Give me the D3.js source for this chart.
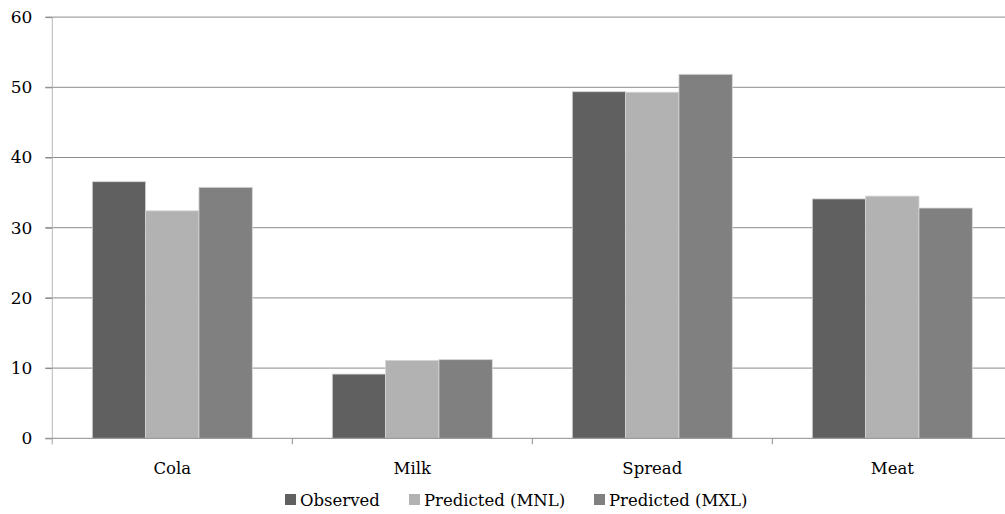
<!DOCTYPE html>
<html>
<head>
<meta charset="utf-8">
<script src="https://cdn.jsdelivr.net/npm/d3@7"></script>
<style>
  html, body { margin: 0; padding: 0; background: #fff; }
  svg { display: block; }
  text { font-family: "DejaVu Serif", "Liberation Serif", serif; fill: #000; }
</style>
</head>
<body>
<div id="chart"></div>
<script>
const categories = ["Cola", "Milk", "Spread", "Meat"];
const seriesNames = ["Observed", "Predicted (MNL)", "Predicted (MXL)"];
const observed = [36.55, 9.15, 49.37, 34.1];
const predictedMNL = [32.4, 11.1, 49.3, 34.5];
const predictedMXL = [35.75, 11.2, 51.85, 32.8];
const yTicks = [0, 10, 20, 30, 40, 50, 60];
const seriesColors = ["#606060", "#b2b2b2", "#808080"];

const seriesValues = [observed, predictedMNL, predictedMXL];
const W = 1005, H = 514;
const plotLeft = 52.3, bandW = 240, plotTop = 17.1, plotBottom = 438.3;

const svg = d3.select("#chart").append("svg").attr("width", W).attr("height", H);

const x0 = d3.scaleBand().domain(categories).range([plotLeft, plotLeft + bandW * categories.length]).padding(0);
const x1 = d3.scaleBand().domain(seriesNames).range([bandW / 6, bandW * 5 / 6]).padding(0);
const y = d3.scaleLinear().domain([0, 60]).range([plotBottom, plotTop]);

// gridlines
svg.append("g").selectAll("line").data(yTicks.filter(d => d > 0)).join("line")
  .attr("x1", plotLeft - 7).attr("x2", W)
  .attr("y1", d => y(d)).attr("y2", d => y(d))
  .attr("stroke", "#8c8c8c").attr("stroke-width", 1);

// y axis
const yAxis = svg.append("g").attr("transform", `translate(${plotLeft},0)`)
  .call(d3.axisLeft(y).tickValues(yTicks).tickSize(7).tickPadding(13));
yAxis.select(".domain").attr("stroke", "#b8b8b8").attr("d", `M0,${plotTop}V${plotBottom + 6}`);
yAxis.selectAll(".tick line").attr("stroke", "#8c8c8c");
yAxis.selectAll(".tick text").style("font-family", "DejaVu Serif").style("font-size", "17px").attr("fill", "#000");

// bars
const data = categories.map((c, i) => ({ cat: c, vals: seriesNames.map((s, j) => ({ s, j, v: seriesValues[j][i] })) }));
svg.append("g").selectAll("g").data(data).join("g")
  .attr("transform", d => `translate(${x0(d.cat)},0)`)
  .selectAll("rect").data(d => d.vals).join("rect")
  .attr("x", d => x1(d.s)).attr("width", x1.bandwidth())
  .attr("y", d => y(d.v)).attr("height", d => y(0) - y(d.v))
  .attr("fill", d => seriesColors[d.j])
  .attr("stroke", "#d4d4d4").attr("stroke-width", 0.8);

// x axis
const xAxis = svg.append("g").attr("transform", `translate(0,${plotBottom})`)
  .call(d3.axisBottom(x0).tickSize(0).tickPadding(24));
xAxis.select(".domain").attr("stroke", "#8c8c8c").attr("d", `M${plotLeft - 7},0H${W}`);
xAxis.selectAll(".tick text").style("font-family", "DejaVu Serif").style("font-size", "16.5px").attr("fill", "#000");
// category boundary ticks
svg.append("g").selectAll("line").data(d3.range(categories.length + 1)).join("line")
  .attr("x1", i => plotLeft + i * bandW).attr("x2", i => plotLeft + i * bandW)
  .attr("y1", plotBottom).attr("y2", plotBottom + 6)
  .attr("stroke", i => i === 0 ? "#b8b8b8" : "#8c8c8c");

// legend
const legendX = [285, 409, 594];
const legend = svg.append("g").selectAll("g").data(seriesNames).join("g")
  .attr("transform", (d, i) => `translate(${legendX[i]},494)`);
legend.append("rect").attr("width", 11).attr("height", 11).attr("fill", (d, i) => seriesColors[i]);
legend.append("text").attr("x", 15).attr("y", 11.5).style("font-size", "16.5px").text(d => d);
</script>
</body>
</html>
